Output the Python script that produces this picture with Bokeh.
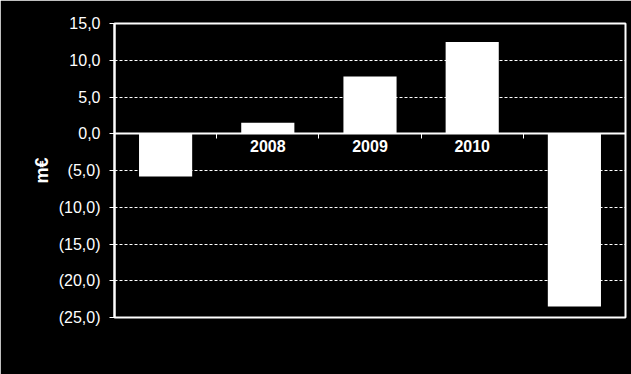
from bokeh.plotting import figure
from bokeh.models import FixedTicker, Range1d, ColumnDataSource
from bokeh.embed import file_html
from bokeh.resources import INLINE

# Data
categories = ["", "2008", "2009", "2010", ""]
values = [-5.8, 1.5, 7.8, 12.5, -23.5]
y_ticks = [-25, -20, -15, -10, -5, 0, 5, 10, 15]
y_tick_labels = ["(25,0)", "(20,0)", "(15,0)", "(10,0)", "(5,0)", "0,0", "5,0", "10,0", "15,0"]
y_label = "m€"

n = len(categories)
centers = [i + 0.5 for i in range(n)]
boundaries = [float(i) for i in range(1, n)]

src = ColumnDataSource(dict(x=centers, top=values))

p = figure(width=631, height=374, x_range=Range1d(0, n), y_range=Range1d(-25, 15),
           output_backend="svg", toolbar_location=None,
           min_border_left=114, min_border_right=6, min_border_top=23, min_border_bottom=57,
           background_fill_color="black", border_fill_color="black")
p.outline_line_color = "white"
p.outline_line_width = 2

p.vbar(x="x", top="top", bottom=0, width=0.52, source=src,
       fill_color="white", line_color=None)

# x axis at zero
xa = p.xaxis[0]
xa.fixed_location = 0
xa.ticker = FixedTicker(ticks=centers, minor_ticks=boundaries)
xa.major_label_overrides = {c: lab for c, lab in zip(centers, categories)}
xa.axis_line_color = "white"
xa.axis_line_width = 2
xa.major_tick_line_color = None
xa.major_tick_out = 0
xa.major_tick_in = 0
xa.minor_tick_line_color = "white"
xa.minor_tick_line_width = 1
xa.minor_tick_out = 5
xa.minor_tick_in = 0
xa.major_label_standoff = 1
xa.major_label_text_color = "white"
xa.major_label_text_font = "Liberation Sans"
xa.major_label_text_font_style = "bold"
xa.major_label_text_font_size = "16px"

p.xgrid.visible = False

ya = p.yaxis[0]
ya.ticker = FixedTicker(ticks=y_ticks)
ya.major_label_overrides = {t: lab for t, lab in zip(y_ticks, y_tick_labels)}
ya.axis_line_color = "white"
ya.axis_line_width = 2
ya.major_tick_line_color = "white"
ya.major_tick_line_width = 1
ya.major_tick_out = 5
ya.major_tick_in = 0
ya.minor_tick_line_color = None
ya.major_label_standoff = 9
ya.major_label_text_color = "white"
ya.major_label_text_font = "Liberation Sans"
ya.major_label_text_font_size = "16px"
ya.axis_label = y_label
ya.axis_label_text_color = "white"
ya.axis_label_text_font = "Liberation Sans"
ya.axis_label_text_font_style = "bold"
ya.axis_label_text_font_size = "18px"
ya.axis_label_standoff = 4

p.ygrid.ticker = FixedTicker(ticks=y_ticks)
p.ygrid.grid_line_color = "white"
p.ygrid.grid_line_width = 1
p.ygrid.grid_line_dash = "3 2"

open("out.html", "w").write(file_html(p, INLINE))
